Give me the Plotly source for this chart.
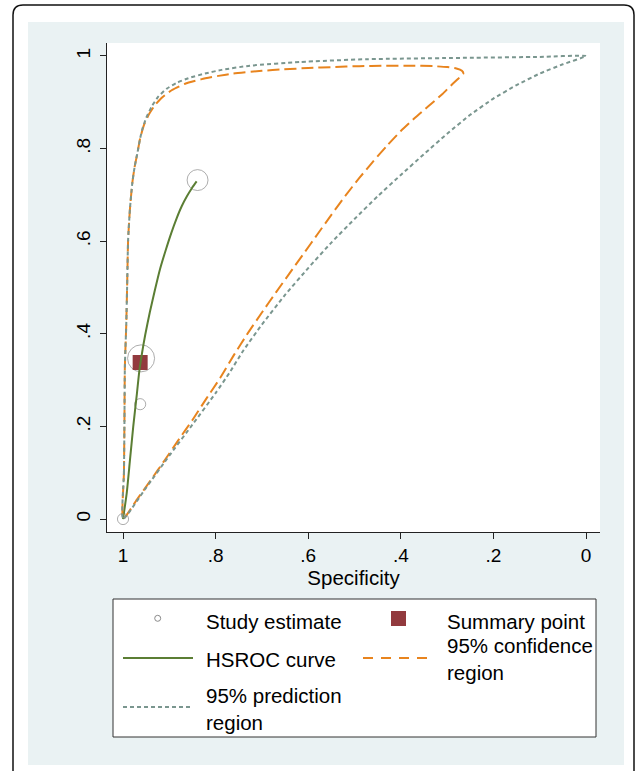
import plotly.graph_objects as go

# ---------------- data ----------------
study_spec = [0.839, 0.961, 0.963, 1.000]
study_sens = [0.732, 0.347, 0.248, 0.000]
study_weight = [0.60, 1.00, 0.17, 0.17]

summary_spec = [0.963]
summary_sens = [0.338]

hsroc_spec = [1.000, 0.992, 0.985, 0.978, 0.970, 0.965, 0.959, 0.952, 0.942,
              0.931, 0.920, 0.908, 0.896, 0.884, 0.873, 0.862, 0.851, 0.841]
hsroc_sens = [0.000, 0.056, 0.127, 0.199, 0.271, 0.318, 0.358, 0.398, 0.447,
              0.495, 0.540, 0.580, 0.617, 0.650, 0.676, 0.697, 0.715, 0.729]

conf_spec = [1.000, 0.998, 0.997, 0.996, 0.993, 0.991, 0.989, 0.985, 0.980, 0.975,
             0.969, 0.963, 0.955, 0.944, 0.931, 0.915, 0.895, 0.866, 0.830, 0.794,
             0.762, 0.700, 0.654, 0.600, 0.546, 0.490, 0.438, 0.380, 0.330, 0.300,
             0.280, 0.268, 0.265, 0.270, 0.276, 0.290, 0.310, 0.340, 0.370, 0.400,
             0.430, 0.460, 0.490, 0.520, 0.550, 0.580, 0.610, 0.640, 0.670, 0.700,
             0.730, 0.760, 0.790, 0.820, 0.850, 0.880, 0.910, 0.940, 0.970, 1.000]
conf_sens = [0.000, 0.100, 0.200, 0.329, 0.420, 0.509, 0.603, 0.670, 0.725, 0.760,
             0.790, 0.822, 0.850, 0.874, 0.894, 0.911, 0.926, 0.940, 0.950, 0.957,
             0.962, 0.968, 0.971, 0.974, 0.976, 0.978, 0.979, 0.979, 0.978, 0.976,
             0.973, 0.968, 0.962, 0.957, 0.951, 0.938, 0.918, 0.892, 0.866, 0.838,
             0.806, 0.772, 0.736, 0.698, 0.657, 0.615, 0.573, 0.531, 0.489, 0.446,
             0.402, 0.355, 0.305, 0.260, 0.214, 0.171, 0.127, 0.084, 0.042, 0.000]

pred_spec = [1.000, 0.998, 0.997, 0.996, 0.993, 0.991, 0.989, 0.985, 0.980, 0.975,
             0.969, 0.963, 0.958, 0.950, 0.938, 0.924, 0.906, 0.884, 0.859, 0.823,
             0.787, 0.726, 0.618, 0.474, 0.258, 0.100, 0.000,
             0.050, 0.100, 0.150, 0.200, 0.250, 0.300, 0.350, 0.400, 0.450, 0.500,
             0.550, 0.600, 0.650, 0.700, 0.740, 0.770, 0.800, 0.850, 0.900, 0.950,
             1.000]
pred_sens = [0.000, 0.100, 0.200, 0.329, 0.420, 0.509, 0.603, 0.670, 0.725, 0.760,
             0.790, 0.822, 0.843, 0.866, 0.891, 0.912, 0.929, 0.942, 0.952, 0.962,
             0.970, 0.979, 0.987, 0.993, 0.996, 0.998, 1.000,
             0.982, 0.962, 0.937, 0.908, 0.873, 0.832, 0.788, 0.743, 0.697, 0.648,
             0.597, 0.542, 0.484, 0.420, 0.364, 0.316, 0.272, 0.204, 0.137, 0.068,
             0.000]

tick_vals = [0, 0.2, 0.4, 0.6, 0.8, 1]
tick_text = ["0", ".2", ".4", ".6", ".8", "1"]

legend_labels = ["Study estimate", "Summary point", "HSROC curve",
                 "95% confidence<br>region", "95% prediction<br>region"]

# ---------------- styling ----------------
FONT = "Liberation Sans, Arial, sans-serif"
C_ORANGE = "#E8841E"
C_GREY = "#7A968F"
C_GREEN = "#5B7E34"
C_MAROON = "#923A3E"
C_CIRCLE = "#8A8A8A"
BG = "#EAF2F3"

W, H = 637, 771
L, R, T, B = 107, 600, 43, 532


def px(x):
    return (x - L) / (R - L)


def py(y):
    return (B - y) / (B - T)


fig = go.Figure()

fig.add_trace(go.Scatter(
    x=study_spec, y=study_sens, mode="markers",
    marker=dict(size=study_weight, sizemode="area", sizeref=2 / 27 ** 2,
                symbol="circle-open", color=C_CIRCLE, line=dict(width=1, color=C_CIRCLE)),
    showlegend=False))
fig.add_trace(go.Scatter(
    x=summary_spec, y=summary_sens, mode="markers",
    marker=dict(size=15, symbol="square", color=C_MAROON),
    showlegend=False))
fig.add_trace(go.Scatter(
    x=hsroc_spec, y=hsroc_sens, mode="lines",
    line=dict(color=C_GREEN, width=2, shape="spline", smoothing=0.6), showlegend=False))
fig.add_trace(go.Scatter(
    x=conf_spec, y=conf_sens, mode="lines",
    line=dict(color=C_ORANGE, width=2, dash="12px,5px", shape="spline", smoothing=0.5),
    showlegend=False))
fig.add_trace(go.Scatter(
    x=pred_spec, y=pred_sens, mode="lines",
    line=dict(color=C_GREY, width=2, dash="4px,3px", shape="spline", smoothing=0.5),
    showlegend=False))

shapes = []
# white outer strips (outside light background)
for x0, y0, x1, y1 in [(0, 0, 28, H), (624, 0, W, H), (0, 0, W, 22), (0, 765, W, H)]:
    shapes.append(dict(type="rect", xref="paper", yref="paper",
                       x0=px(x0), x1=px(x1), y0=py(y1), y1=py(y0),
                       fillcolor="white", line=dict(width=0), layer="below"))
# rounded frame
r = 10
fx0, fx1, fy0, fy1 = 13, 634, 5, H + 5
path = (f"M {px(fx0)},{py(fy1)} L {px(fx0)},{py(fy0 + r)} "
        f"Q {px(fx0)},{py(fy0)} {px(fx0 + r)},{py(fy0)} "
        f"L {px(fx1 - r)},{py(fy0)} Q {px(fx1)},{py(fy0)} {px(fx1)},{py(fy0 + r)} "
        f"L {px(fx1)},{py(fy1)}")
shapes.append(dict(type="path", xref="paper", yref="paper", path=path,
                   line=dict(color="#111111", width=1.5), layer="below"))
# legend box
shapes.append(dict(type="rect", xref="paper", yref="paper",
                   x0=px(113), x1=px(596), y0=py(737), y1=py(599),
                   fillcolor="white", line=dict(color="#333333", width=1)))
# legend symbols
shapes.append(dict(type="circle", xref="paper", yref="paper",
                   x0=px(154.7), x1=px(160.7), y0=py(621.3), y1=py(615.3),
                   line=dict(color=C_CIRCLE, width=1)))
shapes.append(dict(type="rect", xref="paper", yref="paper",
                   x0=px(391), x1=px(406), y0=py(626), y1=py(611),
                   fillcolor=C_MAROON, line=dict(width=0)))
shapes.append(dict(type="line", xref="paper", yref="paper",
                   x0=px(123), x1=px(193), y0=py(658), y1=py(658),
                   line=dict(color=C_GREEN, width=2)))
shapes.append(dict(type="line", xref="paper", yref="paper",
                   x0=px(363), x1=px(435), y0=py(658), y1=py(658),
                   line=dict(color=C_ORANGE, width=2, dash="10px,8px")))
shapes.append(dict(type="line", xref="paper", yref="paper",
                   x0=px(123), x1=px(193), y0=py(707), y1=py(707),
                   line=dict(color=C_GREY, width=2, dash="4px,3px")))

ann_pos = [(204, 621), (445, 621), (204, 659), (445, 659), (204, 709)]
annotations = []
for (ax_, ay_), txt in zip(ann_pos, legend_labels):
    annotations.append(dict(xref="paper", yref="paper", x=px(ax_), y=py(ay_),
                            xanchor="left", yanchor="middle", align="left",
                            text=txt, showarrow=False,
                            font=dict(family=FONT, size=20.5, color="black")))

fig.update_layout(
    width=W, height=H,
    margin=dict(l=L, r=W - R, t=T, b=H - B),
    paper_bgcolor=BG, plot_bgcolor="white",
    font=dict(family=FONT, color="black"),
    shapes=shapes, annotations=annotations,
    xaxis=dict(range=[1.0346, -0.0302], tickvals=tick_vals, ticktext=tick_text,
               showgrid=False, zeroline=False, showline=True, linecolor="#222222",
               linewidth=1, ticks="outside", ticklen=6, tickcolor="#222222",
               tickfont=dict(size=19, family=FONT),
               title=dict(text="Specificity", font=dict(size=20.5, family=FONT), standoff=4)),
    yaxis=dict(range=[-0.028, 1.028], tickvals=tick_vals, ticktext=tick_text,
               showgrid=False, zeroline=False, showline=True, linecolor="#222222",
               linewidth=1, ticks="outside", ticklen=6, tickcolor="#222222",
               tickangle=-90, ticklabelstandoff=2, tickfont=dict(size=19, family=FONT)),
)

fig.write_html("out.html", config={"displayModeBar": False},
               post_script="document.body.style.margin='0px';")
